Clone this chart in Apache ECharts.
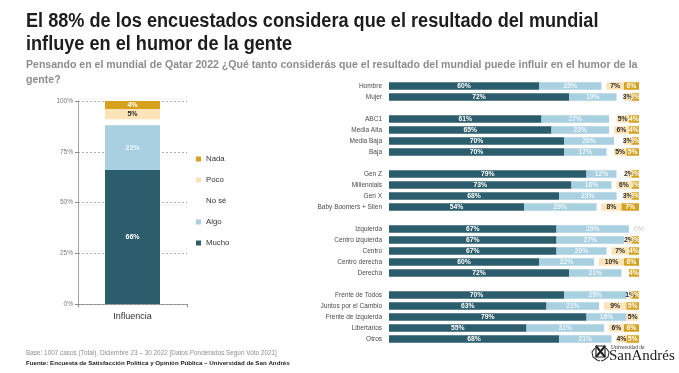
<!DOCTYPE html>
<html><head><meta charset="utf-8">
<script src="https://cdn.jsdelivr.net/npm/echarts@6/dist/echarts.min.js"></script>
<style>html,body{margin:0;padding:0;background:#fff}#c{width:679px;height:373px}</style>
</head><body><div id="c"></div>
<script>
// ---------- data ----------
const titleText = 'El 88% de los encuestados considera que el resultado del mundial\ninfluye en el humor de la gente';
const subtitleText = 'Pensando en el mundial de Qatar 2022 ¿Qué tanto considerás que el resultado del mundial puede influir en el humor de la\ngente?';
const baseText = 'Base: 1007 casos (Total), Diciembre 23 – 30 2022 [Datos Ponderados Según Voto 2021]';
const sourceText = 'Fuente: Encuesta de Satisfacción Política y Opinión Pública – Universidad de San Andrés';
const logoSmall = 'Universidad de';
const logoBig = 'SanAndrés';

const seriesNames = ['Mucho', 'Algo', 'No sé', 'Poco', 'Nada'];
const legendOrder = ['Nada', 'Poco', 'No sé', 'Algo', 'Mucho'];

// left chart (total)
const leftCategories = ['Influencia'];
const leftMucho = [66];
const leftAlgo = [22];
const leftNoSe = [3];
const leftPoco = [5];
const leftNada = [4];

// right chart (segments); blank rows are spacers between groups
const rightCategories = ['Hombre', 'Mujer', '',
  'ABC1', 'Media Alta', 'Media Baja', 'Baja', ' ',
  'Gen Z', 'Millennials', 'Gen X', 'Baby Boomers + Silen', '  ',
  'Izquierda', 'Centro izquierda', 'Centro', 'Centro derecha', 'Derecha', '   ',
  'Frente de Todos', 'Juntos por el Cambio', 'Frente de Izquierda', 'Libertarios', 'Otros'];
const rightMucho = [60, 72, null, 61, 65, 70, 70, null, 79, 73, 68, 54, null, 67, 67, 67, 60, 72, null, 70, 63, 79, 55, 68];
const rightAlgo  = [25, 19, null, 27, 23, 20, 17, null, 12, 16, 23, 29, null, 29, 27, 20, 22, 21, null, 25, 21, 16, 31, 21];
const rightNoSe  = [2, 3, null, 3, 2, 4, 3, null, 4, 2, 3, 2, null, 4, 1, 2, 2, 3, null, 1, 2, 0, 2, 2];
const rightPoco  = [7, 3, null, 5, 6, 3, 5, null, 2, 6, 3, 8, null, null, 2, 7, 10, null, null, 1, 9, 5, 6, 4];
const rightNada  = [6, 3, null, 4, 4, 3, 5, null, 3, 3, 3, 7, null, 0, 3, 4, 6, 4, null, 3, 5, null, 6, 5];

const yTicks = [0, 25, 50, 75, 100];

// ---------- styles ----------
const FONT = "'Liberation Sans',Arial,sans-serif";
const SERIF = "'Liberation Serif','DejaVu Serif',serif";
const colors = { 'Mucho': '#2c5d6d', 'Algo': '#a9d0e0', 'No sé': 'rgba(255,255,255,0)', 'Poco': '#fce3b8', 'Nada': '#d6a21e' };
const labelColors = { 'Mucho': '#ffffff', 'Algo': '#eef6fa', 'No sé': 'transparent', 'Poco': '#2a2a2a', 'Nada': '#ffffff' };
const leftData = { 'Mucho': leftMucho, 'Algo': leftAlgo, 'No sé': leftNoSe, 'Poco': leftPoco, 'Nada': leftNada };
const rightData = { 'Mucho': rightMucho, 'Algo': rightAlgo, 'No sé': rightNoSe, 'Poco': rightPoco, 'Nada': rightNada };

const fmt = p => (p.value === null || p.value === undefined || p.value === '-') ? '' : p.value + '%';

const series = [];
seriesNames.forEach(name => {
  series.push({
    name, type: 'bar', stack: 'L', xAxisIndex: 0, yAxisIndex: 0, barWidth: 55,
    itemStyle: { color: colors[name] },
    label: { show: name !== 'No sé', position: 'inside', formatter: fmt, color: labelColors[name],
      fontFamily: FONT, fontSize: 7, fontWeight: 'bold' },
    emphasis: { disabled: true },
    data: leftData[name]
  });
});
seriesNames.forEach(name => {
  series.push({
    name, type: 'bar', stack: 'R', xAxisIndex: 1, yAxisIndex: 1, barWidth: 7.5,
    itemStyle: { color: colors[name] },
    label: { show: name !== 'No sé', position: 'inside', formatter: fmt, color: labelColors[name],
      fontFamily: FONT, fontSize: 6.8, fontWeight: 'bold' },
    emphasis: { disabled: true },
    data: rightData[name].map(v => (v === 0 && name === 'Nada') ? { value: 0, label: { color: '#c8c8c8', fontWeight: 'normal' } } : (v === null ? '-' : v))
  });
});

const chart = echarts.init(document.getElementById('c'), null, { renderer: 'canvas' });
chart.setOption({
  animation: false,
  backgroundColor: '#ffffff',
  textStyle: { fontFamily: FONT },
  title: [
    { text: baseText, left: 26, top: 349, padding: 0, textStyle: { fontFamily: FONT, fontSize: 6.4, fontWeight: 'normal', color: '#8f8f8f', lineHeight: 8 } },
    { text: sourceText, left: 26, top: 359, padding: 0, textStyle: { fontFamily: FONT, fontSize: 6.2, fontWeight: 'bold', color: '#222', lineHeight: 8 } }
  ],
  legend: {
    data: legendOrder, orient: 'vertical', left: 196, top: 154, padding: 0, itemWidth: 5, itemHeight: 5, itemGap: 11,
    icon: 'rect', selectedMode: false,
    textStyle: { fontFamily: FONT, fontSize: 7.8, color: '#333', lineHeight: 10 }
  },
  grid: [
    { left: 78, top: 101, width: 109, height: 203 },
    { left: 389, top: 80.5, width: 250, height: 264 }
  ],
  xAxis: [
    { gridIndex: 0, type: 'category', data: leftCategories, boundaryGap: true,
      axisLine: { lineStyle: { color: '#8a8a8a', width: 0.8 } },
      axisTick: { show: true, length: 3, lineStyle: { color: '#8a8a8a' } },
      axisLabel: { fontFamily: FONT, fontSize: 9, color: '#333', margin: 8 } },
    { gridIndex: 1, type: 'value', min: 0, max: 100, show: false }
  ],
  yAxis: [
    { gridIndex: 0, type: 'value', min: yTicks[0], max: yTicks[yTicks.length - 1], interval: 25,
      axisLine: { show: true, lineStyle: { color: '#8a8a8a', width: 0.8 } },
      axisTick: { show: true, length: 3, lineStyle: { color: '#8a8a8a' } },
      axisLabel: { formatter: '{value}%', fontFamily: FONT, fontSize: 6.5, color: '#7a7a7a', margin: 5 },
      splitLine: { show: true, lineStyle: { color: '#9a9a9a', type: [2, 2], width: 0.8 } } },
    { gridIndex: 1, type: 'category', data: rightCategories, inverse: true,
      axisLine: { show: false }, axisTick: { show: false },
      axisLabel: { fontFamily: FONT, fontSize: 6.5, color: '#4a4a4a', margin: 7 } }
  ],
  graphic: [
    { type: 'text', x: 26, y: 10.5, scaleX: 0.93, silent: true,
      style: { text: titleText, font: "bold 19.5px " + FONT, fill: '#1d1d1d', lineHeight: 22.5, align: 'left', verticalAlign: 'top' } },
    { type: 'text', x: 26, y: 57, scaleX: 0.91, silent: true,
      style: { text: subtitleText, font: "bold 11.6px " + FONT, fill: '#8c8c8c', lineHeight: 15, align: 'left', verticalAlign: 'top' } },
    { type: 'text', x: 611, y: 345, silent: true, style: { text: logoSmall, font: "5.5px " + SERIF, fill: '#333', verticalAlign: 'top' } },
    { type: 'text', x: 609, y: 348.5, silent: true, style: { text: logoBig, font: "15px " + SERIF, fill: '#222', verticalAlign: 'top' } },
    { type: 'group', x: 592, y: 345, silent: true, children: [
      { type: 'rect', shape: { x: 4, y: 1, width: 9, height: 11 }, style: { fill: '#fff', stroke: '#222', lineWidth: 1.2 } },
      { type: 'line', shape: { x1: 4, y1: 1, x2: 13, y2: 12 }, style: { stroke: '#222', lineWidth: 2 } },
      { type: 'line', shape: { x1: 13, y1: 1, x2: 4, y2: 12 }, style: { stroke: '#222', lineWidth: 2 } },
      { type: 'polyline', shape: { points: [[3, 3], [0, 7], [1, 12], [5, 15], [8, 16]] }, style: { stroke: '#333', lineWidth: 1.1, fill: null } },
      { type: 'polyline', shape: { points: [[14, 3], [17, 7], [16, 12], [12, 15], [9, 16]] }, style: { stroke: '#333', lineWidth: 1.1, fill: null } }
    ] }
  ],
  series
});
</script>
</body></html>
